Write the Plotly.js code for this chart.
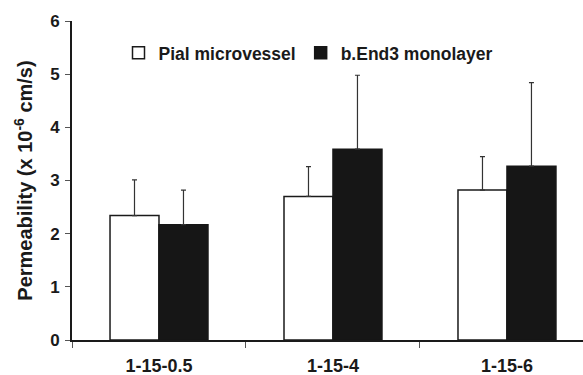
<!DOCTYPE html>
<html>
<head>
<meta charset="utf-8">
<script src="https://cdn.plot.ly/plotly-3.0.1.min.js"></script>
<style>html,body{margin:0;padding:0;background:#fff;}#chart{width:583px;height:375px;}</style>
</head>
<body>
<div id="chart"></div>
<script>
var categories = ["1-15-0.5", "1-15-4", "1-15-6"];
var pialMean = [2.34, 2.70, 2.82];
var pialErr = [0.67, 0.56, 0.63];
var bendMean = [2.17, 3.59, 3.27];
var bendErr = [0.65, 1.39, 1.57];
var seriesNames = ["Pial microvessel", "b.End3 monolayer"];
var yTicks = [0, 1, 2, 3, 4, 5, 6];

var FONT = "Liberation Sans, Arial, Helvetica, sans-serif";

var traces = [
  {
    type: "bar", name: seriesNames[0], x: categories, y: pialMean,
    marker: {color: "#ffffff", line: {color: "#1a1a1a", width: 1.5}},
    error_y: {type: "data", symmetric: false, array: pialErr, arrayminus: [0,0,0],
              color: "#333333", thickness: 1.2, width: 2.5}
  },
  {
    type: "bar", name: seriesNames[1], x: categories, y: bendMean,
    marker: {color: "#161616", line: {color: "#161616", width: 1.5}},
    error_y: {type: "data", symmetric: false, array: bendErr, arrayminus: [0,0,0],
              color: "#333333", thickness: 1.2, width: 2.5}
  }
];

var layout = {
  width: 583, height: 375,
  margin: {l: 72, r: 0, t: 21, b: 35},
  paper_bgcolor: "#ffffff", plot_bgcolor: "#ffffff",
  font: {family: FONT, color: "#1a1a1a"},
  barmode: "group",
  bargap: 0.437,
  bargroupgap: 0,
  showlegend: true,
  legend: {
    orientation: "h", xref: "paper", yref: "paper",
    x: 0.091, y: 0.90, xanchor: "left", yanchor: "middle",
    font: {family: FONT, size: 17.5, weight: "bold", color: "#1a1a1a"},
    bgcolor: "rgba(0,0,0,0)", traceorder: "normal"
  },
  xaxis: {
    type: "category",
    range: [-0.5, 2.437],
    showline: true, linecolor: "#1a1a1a", linewidth: 2,
    ticks: "outside", tickson: "boundaries", ticklen: 6, tickwidth: 1, tickcolor: "#555",
    showgrid: false, zeroline: false,
    ticklabelstandoff: 8,
    tickfont: {family: FONT, size: 18, weight: "bold", color: "#1a1a1a"}
  },
  yaxis: {
    range: [0, 6],
    tickmode: "array", tickvals: yTicks, ticktext: yTicks.map(String),
    showline: true, linecolor: "#1a1a1a", linewidth: 2,
    ticks: "outside", ticklen: 5, tickwidth: 1, tickcolor: "#555",
    showgrid: false, zeroline: false,
    ticklabelstandoff: 2,
    tickfont: {family: FONT, size: 17, weight: "bold", color: "#1a1a1a"},
    title: {text: "Permeability (x 10<sup>-6</sup> cm/s)", standoff: 12,
            font: {family: FONT, size: 20, weight: "bold", color: "#1a1a1a"}}
  }
};

Plotly.newPlot("chart", traces, layout, {displayModeBar: false, staticPlot: true});
</script>
</body>
</html>
